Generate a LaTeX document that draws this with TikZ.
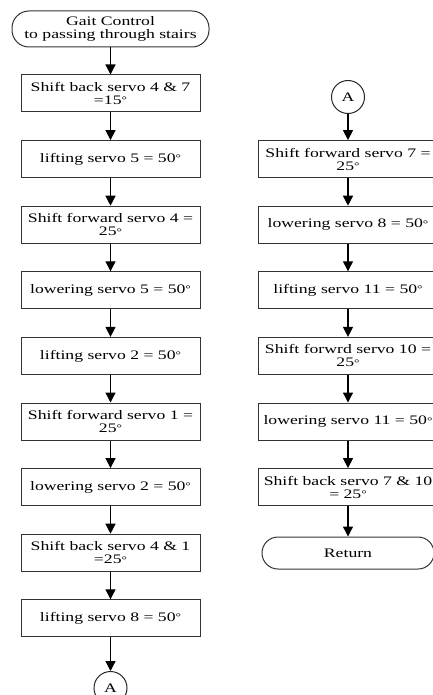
\documentclass[tikz,border=0pt]{standalone}
\usepackage{fontspec}
\setmainfont{Liberation Serif}[FakeStretch=1.36]
\usetikzlibrary{arrows.meta}
\newcommand{\dgr}{{\fontsize{10}{10}\selectfont\raisebox{0.6pt}{\textdegree}}}
\tikzset{
  proc/.style={draw=black!80, line width=1pt, minimum width=179pt, minimum height=37pt, inner sep=1pt, align=center, font=\fontsize{13}{13}\selectfont},
  term/.style={draw=black!80, line width=1pt, rounded corners=17pt, minimum height=36pt, inner sep=1pt, align=center, font=\fontsize{13}{13}\selectfont},
  conn/.style={draw=black!85, line width=1pt, circle, minimum size=33pt, inner sep=0pt, font=\fontsize{13}{13}\selectfont},
  flow/.style={line width=1.3pt, -{Triangle[length=10pt,width=10pt]}},
}
\begin{document}
\begin{tikzpicture}[x=1pt,y=-1pt]
\useasboundingbox (0,0) rectangle (432,695);
\fill[white] (0,0) rectangle (432,695);
% left column
\node[term, minimum width=197pt] (s) at (110.5,29) {Gait Control\\to passing through stairs};
\node[proc] (l1) at (110.5,93.5) {Shift back servo 4 \& 7\\=15\dgr};
\node[proc] (l2) at (110.5,159.1) {lifting servo 5 = 50\dgr};
\node[proc] (l3) at (110.5,224.7) {Shift forward servo 4 =\\25\dgr};
\node[proc] (l4) at (110.5,290.3) {lowering servo 5 = 50\dgr};
\node[proc] (l5) at (110.5,355.9) {lifting servo 2 = 50\dgr};
\node[proc] (l6) at (110.5,421.5) {Shift forward servo 1 =\\25\dgr};
\node[proc] (l7) at (110.5,487.1) {lowering servo 2 = 50\dgr};
\node[proc] (l8) at (110.5,552.7) {Shift back servo 4 \& 1\\=25\dgr};
\node[proc] (l9) at (110.5,618.3) {lifting servo 8 = 50\dgr};
\node[conn] (a1) at (110.5,688) {A};
% right column
\node[conn] (a2) at (348,97) {A};
\node[proc] (r1) at (348,159.1) {Shift forward servo 7 =\\25\dgr};
\node[proc] (r2) at (348,224.7) {lowering servo 8 = 50\dgr};
\node[proc] (r3) at (348,290.3) {lifting servo 11 = 50\dgr};
\node[proc] (r4) at (348,355.9) {Shift forwrd servo 10 =\\25\dgr};
\node[proc] (r5) at (348,421.5) {lowering servo 11 = 50\dgr};
\node[proc] (r6) at (348,487.1) {Shift back servo 7 \& 10\\= 25\dgr};
\node[term, minimum width=172pt, minimum height=32pt, rounded corners=16pt] (ret) at (348,553) {Return};
% connectors
\foreach \u/\v in {s/l1,l1/l2,l2/l3,l3/l4,l4/l5,l5/l6,l6/l7,l7/l8,l8/l9,l9/a1,a2/r1,r1/r2,r2/r3,r3/r4,r4/r5,r5/r6,r6/ret}
  \draw[flow] (\u) -- (\v);
\end{tikzpicture}
\end{document}
